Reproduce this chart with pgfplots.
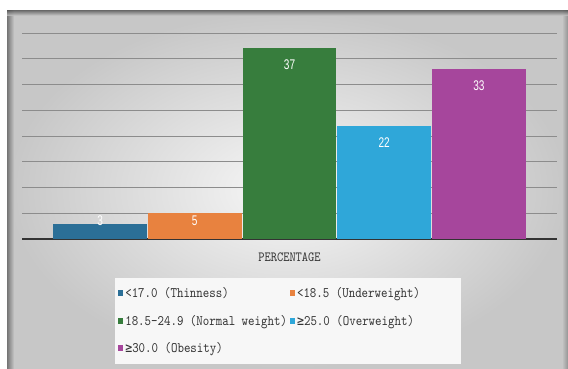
\documentclass[border=0pt]{standalone}
\usepackage{pgfplots}
\pgfplotsset{compat=1.18}
\usepackage{fontspec}
\setmainfont{Liberation Sans}
\newfontfamily\lmono[FakeStretch=0.85]{lmmono10-regular.otf}
\newfontfamily\symf{DejaVu Sans Mono}
\newfontfamily\narrowsans[FakeStretch=0.72]{Liberation Sans}
\definecolor{cThin}{HTML}{2B6F97}
\definecolor{cUnder}{HTML}{E8823F}
\definecolor{cNorm}{HTML}{377D3D}
\definecolor{cOver}{HTML}{2FA7D9}
\definecolor{cObese}{HTML}{A6469C}
\begin{document}
\begin{tikzpicture}[x=1pt,y=1pt]
\fill[white] (0,0) rectangle (568,369);
\useasboundingbox (0,0) rectangle (568,369);
\shade[inner color=black!3, outer color=black!22] (7,0) rectangle (568,358);
\shade[left color=black!62, right color=black!22, opacity=0.8] (7,0) rectangle (14,358);
\shade[left color=black!22, right color=black!50, opacity=0.7] (562,0) rectangle (568,358);
\shade[top color=black!60, bottom color=black!18, opacity=0.8] (7,353) rectangle (568,358);
\begin{axis}[
  at={(22pt,130pt)}, anchor=south west,
  scale only axis, width=535pt, height=206pt,
  xmin=-1, xmax=1, ymin=0, ymax=40,
  ytick={0,5,...,40}, yticklabels={},
  xtick=\empty,
  ymajorgrids, grid style={draw=black!45, line width=0.8pt},
  axis y line*=left, y axis line style={draw=none},
  axis x line*=bottom, x axis line style={draw=black!80, line width=1.6pt, -},
  major tick length=0pt,
  ybar=1.2pt, bar width=93.5pt,
  /pgf/number format/assume math mode=true,
  xlabel={\lmono\fontsize{14}{16}\selectfont PERCENTAGE},
  xlabel style={at={(axis description cs:0.5,0)}, anchor=center, yshift=-18pt, text=black!80},
  nodes near coords,
  every node near coord/.append style={font=\narrowsans\fontsize{14}{15}\selectfont, text=white, anchor=center},
  legend columns=2,
  legend style={at={(axis description cs:0.174,-0.186)}, anchor=north west,
    fill=black!3, draw=none, font=\lmono\fontsize{14.5}{16}\selectfont, text=black!80,
    inner xsep=3pt, inner ysep=8pt, row sep=12pt,
    /tikz/every even column/.append style={column sep=1pt}},
  legend cell align=left,
  legend image code/.code={\fill[#1, draw=none] (0pt,-3pt) rectangle (5pt,3pt);},
]
\addplot[fill=cThin, draw=none, every node near coord/.append style={yshift=3pt}] coordinates {(0,3)};
\addplot[fill=cUnder, draw=none, every node near coord/.append style={yshift=-8pt}] coordinates {(0,5)};
\addplot[fill=cNorm, draw=none, every node near coord/.append style={yshift=-16pt}] coordinates {(0,37)};
\addplot[fill=cOver, draw=none, every node near coord/.append style={yshift=-17pt}] coordinates {(0,22)};
\addplot[fill=cObese, draw=none, every node near coord/.append style={yshift=-17pt}] coordinates {(0,33)};
\legend{{<17.0 (Thinness)},{<18.5 (Underweight)\rule{36pt}{0pt}},{18.5-24.9 (Normal weight)},{{\symf\addfontfeature{FakeStretch=0.8}≥}25.0 (Overweight)},{{\symf\addfontfeature{FakeStretch=0.8}≥}30.0 (Obesity)}}
\end{axis}
\end{tikzpicture}
\end{document}
